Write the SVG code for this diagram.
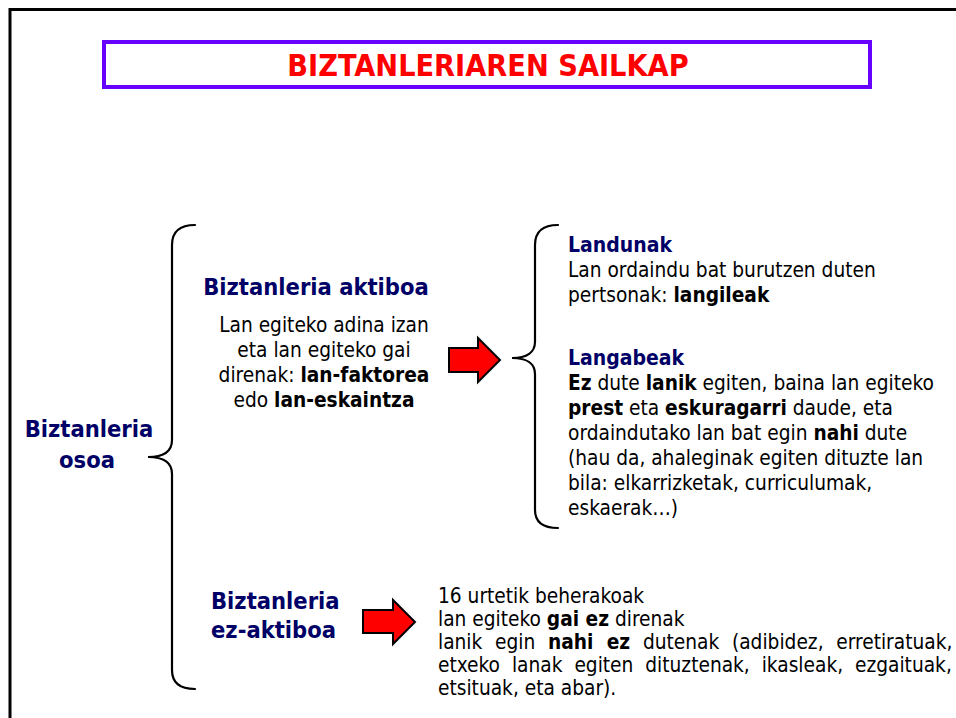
<svg xmlns="http://www.w3.org/2000/svg" width="956" height="718" viewBox="0 0 956 718">
<style>
text{font-family:"DejaVu Sans Condensed","DejaVu Sans","Liberation Sans",sans-serif;font-stretch:condensed;font-size:20.7px;fill:#000}
.b{font-weight:bold}
.h{font-weight:bold;fill:#000066;font-size:23.5px}
.h2{font-weight:bold;fill:#000066;font-size:21px}
.title{font-weight:bold;fill:#FF0000;font-size:30.3px}
.brace{fill:none;stroke:#000;stroke-width:2.2;stroke-linecap:round}
.arrow{fill:#FF0000;stroke:#000;stroke-width:2;stroke-linejoin:miter}
</style>
<rect x="0" y="0" width="956" height="718" fill="#fff"/>
<g id="frame"><rect x="10" y="9.5" width="960" height="720" fill="none" stroke="#000" stroke-width="3"/></g>
<g id="title">
<rect x="104" y="42" width="766" height="45" fill="#fff" stroke="#6600FF" stroke-width="4"/>
<text class="title" x="488" y="76" text-anchor="middle">BIZTANLERIAREN SAILKAP</text>
</g>
<g id="connectors">
<path class="brace" d="M195 225 C180 225 172 231 172 245 L172 440 C172 451 164 457 148 457 C164 457 172 463 172 474 L172 670 C172 683 180 689 195 689"/>
<path class="brace" d="M558 225 C543 225 535 231 535 245 L535 342 C535 352 527 358 512 358 C527 358 535 364 535 374 L535 510 C535 522 543 528 558 528"/>
<polygon class="arrow" points="449,348 478,348 478,338 500,360 478,382 478,372 449,372"/>
<polygon class="arrow" points="363,610 393,610 393,600 415,622 393,644 393,633 363,633"/>
</g>
<g id="node-osoa">
<text class="h" x="89" y="437" text-anchor="middle">Biztanleria</text>
<text class="h" x="87" y="468" text-anchor="middle">osoa</text>
</g>
<g id="node-aktiboa">
<text class="h" x="316" y="295" text-anchor="middle">Biztanleria aktiboa</text>
<text x="324" y="332" text-anchor="middle">Lan egiteko adina izan</text>
<text x="324" y="357" text-anchor="middle">eta lan egiteko gai</text>
<text x="324" y="382" text-anchor="middle">direnak: <tspan class="b">lan-faktorea</tspan></text>
<text x="324" y="407" text-anchor="middle">edo <tspan class="b">lan-eskaintza</tspan></text>
</g>
<g id="node-landunak">
<text class="h2" x="568" y="252">Landunak</text>
<text x="568" y="277">Lan ordaindu bat burutzen duten</text>
<text x="568" y="302">pertsonak: <tspan class="b">langileak</tspan></text>
</g>
<g id="node-langabeak">
<text class="h2" x="568" y="365">Langabeak</text>
<text x="568" y="390"><tspan class="b">Ez</tspan> dute <tspan class="b">lanik</tspan> egiten, baina lan egiteko</text>
<text x="568" y="415"><tspan class="b">prest</tspan> eta <tspan class="b">eskuragarri</tspan> daude, eta</text>
<text x="568" y="440">ordaindutako lan bat egin <tspan class="b">nahi</tspan> dute</text>
<text x="568" y="465">(hau da, ahaleginak egiten dituzte lan</text>
<text x="568" y="490">bila: elkarrizketak, curriculumak,</text>
<text x="568" y="515">eskaerak…)</text>
</g>
<g id="node-ezaktiboa">
<text class="h" x="211" y="609">Biztanleria</text>
<text class="h" x="211" y="638">ez-aktiboa</text>
</g>
<g id="node-ezaktibo-desc">
<text x="438" y="603">16 urtetik beherakoak</text>
<text x="438" y="626">lan egiteko <tspan class="b">gai ez</tspan> direnak</text>
<text x="438" y="649" word-spacing="6.8">lanik egin <tspan class="b">nahi ez</tspan> dutenak (adibidez, erretiratuak,</text>
<text x="438" y="672" word-spacing="6">etxeko lanak egiten dituztenak, ikasleak, ezgaituak,</text>
<text x="438" y="695">etsituak, eta abar).</text>
</g>
</svg>
